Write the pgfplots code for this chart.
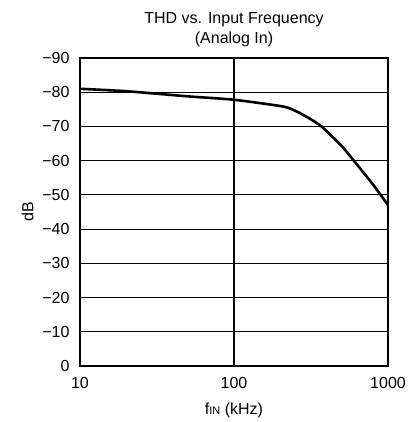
\documentclass[border=0pt]{standalone}
\usepackage{pgfplots}
\pgfplotsset{compat=1.18}
\usepackage{fontspec}
\setmainfont{Liberation Sans}

\begin{document}
\fontsize{16}{19}\selectfont
\begin{tikzpicture}
% frame the page like the reference: axis box 308x308 with its margins
\useasboundingbox (-80pt,-56pt) rectangle (330pt,366pt);
\begin{axis}[
    at={(0,0)}, anchor=south west,
    scale only axis,
    width=308pt, height=308pt,
    xmode=log,
    xmin=10, xmax=1000,
    ymin=-90, ymax=0,
    y dir=reverse,
    xtick={10,100,1000},
    xticklabels={10,100,1000},
    ytick={0,-10,-20,-30,-40,-50,-60,-70,-80,-90},
    yticklabels={0,−10,−20,−30,−40,−50,−60,−70,−80,−90},
    minor xtick={},
    tick style={draw=none},
    major tick length=0pt, minor tick length=0pt,
    xmajorgrids=true, ymajorgrids=true,
    grid style={black, line width=1.2pt},
    axis line style={black, line width=1.2pt},
    tick label style={font=\fontsize{16}{19}\selectfont},
    xticklabel style={yshift=-6pt},
    yticklabel style={xshift=-5pt},
    label style={font=\fontsize{16}{19}\selectfont},
    xlabel={f{\fontsize{11}{13}\selectfont IN} (kHz)},
    xlabel style={yshift=-3pt},
    ylabel={dB},
    ylabel style={yshift=-2pt},
    title={THD vs. Input Frequency\\(Analog In)},
    title style={align=center, font=\fontsize{16}{20}\selectfont, yshift=0pt},
    clip=false,
]
\addplot[black, line width=2.6pt, smooth, tension=0.35] coordinates {
    (10,-81) (20,-80.3) (50,-78.8) (100,-77.8) (210,-75.8) (260,-74.2)
    (310,-72.3) (370,-70) (500,-64.3) (600,-60) (800,-53) (1000,-47)
};
\end{axis}
\end{tikzpicture}
\end{document}
